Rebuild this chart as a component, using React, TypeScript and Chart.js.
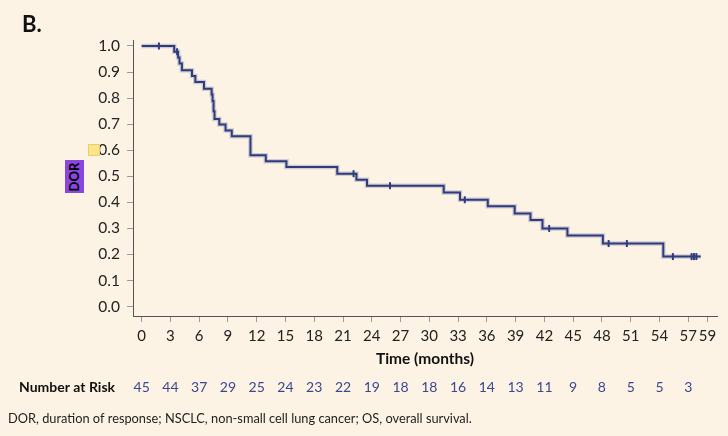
import { useEffect, useRef } from "react";
import { Chart, registerables } from "chart.js";
Chart.register(...registerables);

const eventMonths = [0, 3.4, 3.8, 3.95, 4.2, 5.25, 5.6, 6.5, 7.3, 7.4, 7.5, 7.6, 8.1, 8.75, 9.4, 11.35, 12.95, 15.1, 20.4, 22.4, 23.5, 31.5, 33.2, 36.1, 38.9, 40.55, 41.8, 44.4, 48.1, 54.4, 58.3];
const survival = [1.0, 0.978, 0.956, 0.933, 0.907, 0.885, 0.862, 0.836, 0.814, 0.789, 0.75, 0.72, 0.699, 0.676, 0.654, 0.581, 0.558, 0.536, 0.51, 0.487, 0.464, 0.438, 0.41, 0.385, 0.357, 0.332, 0.3, 0.273, 0.242, 0.192, 0.192];
const censorMonths = [1.8, 3.7, 22.1, 25.9, 33.7, 42.5, 48.7, 50.6, 55.4, 57.35, 57.6, 57.85];
const censorSurv = [1.0, 0.978, 0.51, 0.464, 0.41, 0.3, 0.242, 0.242, 0.192, 0.192, 0.192, 0.192];
const xTicks = [0, 3, 6, 9, 12, 15, 18, 21, 24, 27, 30, 33, 36, 39, 42, 45, 48, 51, 54, 57, 59];
const riskMonths = [0, 3, 6, 9, 12, 15, 18, 21, 24, 27, 30, 33, 36, 39, 42, 45, 48, 51, 54, 57];
const atRisk = [45, 44, 37, 29, 25, 24, 23, 22, 19, 18, 18, 16, 14, 13, 11, 9, 8, 5, 5, 3];

const FONT = "Lato, 'DejaVu Sans', sans-serif";
const BG = "#fdf3e5";
const NAVY = "#2f3b7e";

export default function App() {
  const ref = useRef<HTMLCanvasElement>(null);
  useEffect(() => {
    document.body.style.margin = "0";
    const curve = eventMonths.map((t, i) => ({ x: t, y: survival[i] }));
    const cens = censorMonths.map((t, i) => ({ x: t, y: censorSurv[i] }));
    const extras = {
      id: "extras",
      afterDraw(chart: any) {
        const c = chart.ctx;
        const xs = chart.scales.x;
        const ca = chart.chartArea;
        c.save();
        c.fillStyle = "#111";
        c.textBaseline = "middle";
        c.textAlign = "center";
        c.font = `bold 15.5px ${FONT}`;
        c.fillText("Time (months)", (ca.left + ca.right) / 2, 359);
        c.textAlign = "left";
        c.font = `bold 14px ${FONT}`;
        c.fillText("Number at Risk", 19, 387);
        c.font = `14px ${FONT}`;
        c.fillStyle = "#3a4890";
        c.textAlign = "center";
        riskMonths.forEach((m, i) => {
          c.fillText(String(atRisk[i]), xs.getPixelForValue(m), 387);
        });
        c.textAlign = "left";
        c.fillStyle = "#222";
        c.font = `12.8px ${FONT}`;
        c.fillText("DOR, duration of response; NSCLC, non-small cell lung cancer; OS, overall survival.", 8, 419);
        c.restore();
      },
    };
    const chart = new Chart(ref.current!, {
      type: "line",
      data: {
        datasets: [
          {
            data: curve,
            stepped: "before",
            borderColor: "rgba(47,59,126,0.22)",
            borderWidth: 4.5,
            pointRadius: 0,
            fill: false,
          },
          {
            data: curve,
            stepped: "before",
            borderColor: NAVY,
            borderWidth: 2,
            pointRadius: 0,
            fill: false,
          },
          {
            type: "scatter",
            data: cens,
            showLine: false,
            pointStyle: "line",
            rotation: 90,
            pointRadius: 3.5,
            borderColor: NAVY,
            borderWidth: 2,
          } as any,
        ],
      },
      options: {
        animation: false,
        responsive: false,
        maintainAspectRatio: false,
        layout: { padding: { top: 40, right: 11, left: 0, bottom: 0 } },
        plugins: { legend: { display: false }, tooltip: { enabled: false } },
        scales: {
          x: {
            type: "linear",
            min: -0.9,
            max: 60,
            afterFit: (s: any) => { s.height = 120; },
            afterBuildTicks: (s: any) => { s.ticks = xTicks.map((v) => ({ value: v })); },
            grid: { drawOnChartArea: false, drawTicks: true, tickLength: 6, color: "#9a9a9a" },
            border: { color: "#555", width: 1 },
            ticks: {
              color: "#222",
              font: { family: FONT, size: 15 },
              padding: 5,
              maxRotation: 0,
              autoSkip: false,
              callback: (v: any) => String(v),
            },
          },
          y: {
            type: "linear",
            min: -0.036,
            max: 1.023,
            afterFit: (s: any) => { s.width = 133; },
            afterBuildTicks: (s: any) => {
              s.ticks = [0, 0.1, 0.2, 0.3, 0.4, 0.5, 0.6, 0.7, 0.8, 0.9, 1.0].map((v) => ({ value: v }));
            },
            grid: { drawOnChartArea: false, drawTicks: true, tickLength: 6, color: "#9a9a9a" },
            border: { color: "#555", width: 1 },
            ticks: {
              color: "#222",
              font: { family: FONT, size: 15.5 },
              padding: 7,
              autoSkip: false,
              callback: (v: any) => Number(v).toFixed(1),
            },
          },
        },
      },
      plugins: [extras],
    });
    return () => chart.destroy();
  }, []);
  return (
    <div style={{ position: "fixed", left: 0, top: 0, width: 728, height: 436, background: BG, overflow: "hidden" }}>
      <canvas ref={ref} width={728} height={436} style={{ position: "absolute", left: 0, top: 0, width: 728, height: 436 }} />
      <div style={{ position: "absolute", left: 22, top: 10, font: `bold 22px ${FONT}`, color: "#111" }}>B.</div>
      <div style={{ position: "absolute", left: 88, top: 144, width: 12, height: 12, background: "#fae58a", border: "1px solid #e8cf6a", boxSizing: "border-box" }} />
      <div style={{ position: "absolute", left: 65, top: 160, width: 19, height: 33, background: "#8b46dd", display: "flex", alignItems: "center", justifyContent: "center" }}>
        <span style={{ transform: "rotate(-90deg)", font: `bold 13px ${FONT}`, color: "#000", whiteSpace: "nowrap" }}>DOR</span>
      </div>
    </div>
  );
}
